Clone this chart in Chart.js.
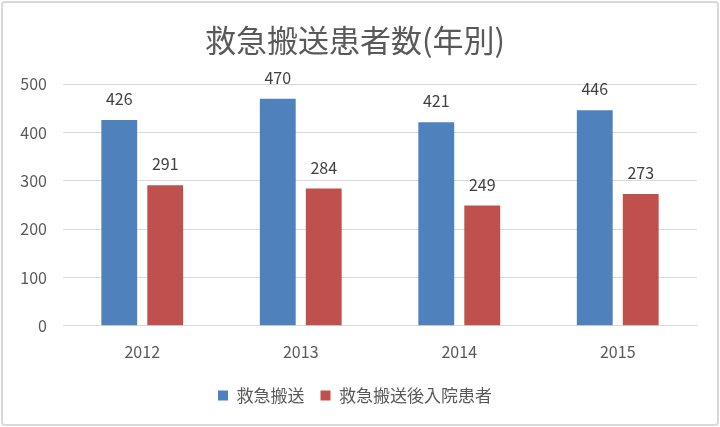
<!DOCTYPE html>
<html>
<head>
<meta charset="utf-8">
<script src="https://cdn.jsdelivr.net/npm/chart.js@4"></script>
<style>
  html, body { margin: 0; padding: 0; background: #fff; }
  #wrap {
    position: absolute; left: 1px; top: 1px;
    width: 714px; height: 421px;
    border: 2px solid #d9d9d9; border-radius: 4px;
    background: #fff;
  }
</style>
</head>
<body>
<div id="wrap"><canvas id="chart"></canvas></div>
<script>
const years = ['2012', '2013', '2014', '2015'];
const transported = [426, 470, 421, 446];
const admitted = [291, 284, 249, 273];
const seriesNames = ['救急搬送', '救急搬送後入院患者'];
const yTicks = [0, 100, 200, 300, 400, 500];

const FONT = '"Noto Sans CJK JP", "Noto Sans", sans-serif';
const GREY = '#595959';

// draws value above each bar
const barLabels = {
  id: 'barLabels',
  afterDatasetsDraw(chart) {
    const ctx = chart.ctx;
    ctx.save();
    ctx.font = '16px ' + FONT;
    ctx.fillStyle = '#404040';
    ctx.textAlign = 'center';
    ctx.textBaseline = 'middle';
    chart.data.datasets.forEach((ds, i) => {
      chart.getDatasetMeta(i).data.forEach((bar, j) => {
        ctx.fillText(ds.data[j], bar.x, bar.y - 21);
      });
    });
    ctx.restore();
  }
};

document.addEventListener('DOMContentLoaded', () => {
  const ctx = document.getElementById('chart').getContext('2d');
  new Chart(ctx, {
    type: 'bar',
    data: {
      labels: years,
      datasets: [{
        label: seriesNames[0],
        data: transported,
        backgroundColor: '#4f81bd',
        barPercentage: 0.78,
        categoryPercentage: 0.58
      }, {
        label: seriesNames[1],
        data: admitted,
        backgroundColor: '#c0504d',
        barPercentage: 0.78,
        categoryPercentage: 0.58
      }]
    },
    options: {
      responsive: true,
      maintainAspectRatio: false,
      animation: false,
      layout: { padding: { left: 10, right: 20, top: 19, bottom: 10 } },
      plugins: {
        title: {
          display: true,
          text: '救急搬送患者数(年別)',
          color: GREY,
          font: { family: FONT, size: 31, weight: 'normal' },
          padding: { top: 0, bottom: 25 }
        },
        legend: {
          position: 'bottom',
          labels: {
            color: GREY,
            font: { family: FONT, size: 17 },
            boxWidth: 10,
            boxHeight: 10,
            padding: 16
          }
        },
        tooltip: { enabled: false }
      },
      scales: {
        x: {
          grid: { display: false },
          border: { color: '#d9d9d9' },
          ticks: { color: GREY, font: { family: FONT, size: 16 }, padding: 9 }
        },
        y: {
          min: 0,
          max: 500,
          afterBuildTicks: axis => { axis.ticks = yTicks.map(v => ({ value: v })); },
          afterFit: axis => { axis.width = 50; },
          grid: { color: '#d9d9d9', drawTicks: false },
          border: { display: false },
          ticks: { color: GREY, font: { family: FONT, size: 16 }, padding: 16 }
        }
      }
    },
    plugins: [barLabels]
  });
});
</script>
</body>
</html>
